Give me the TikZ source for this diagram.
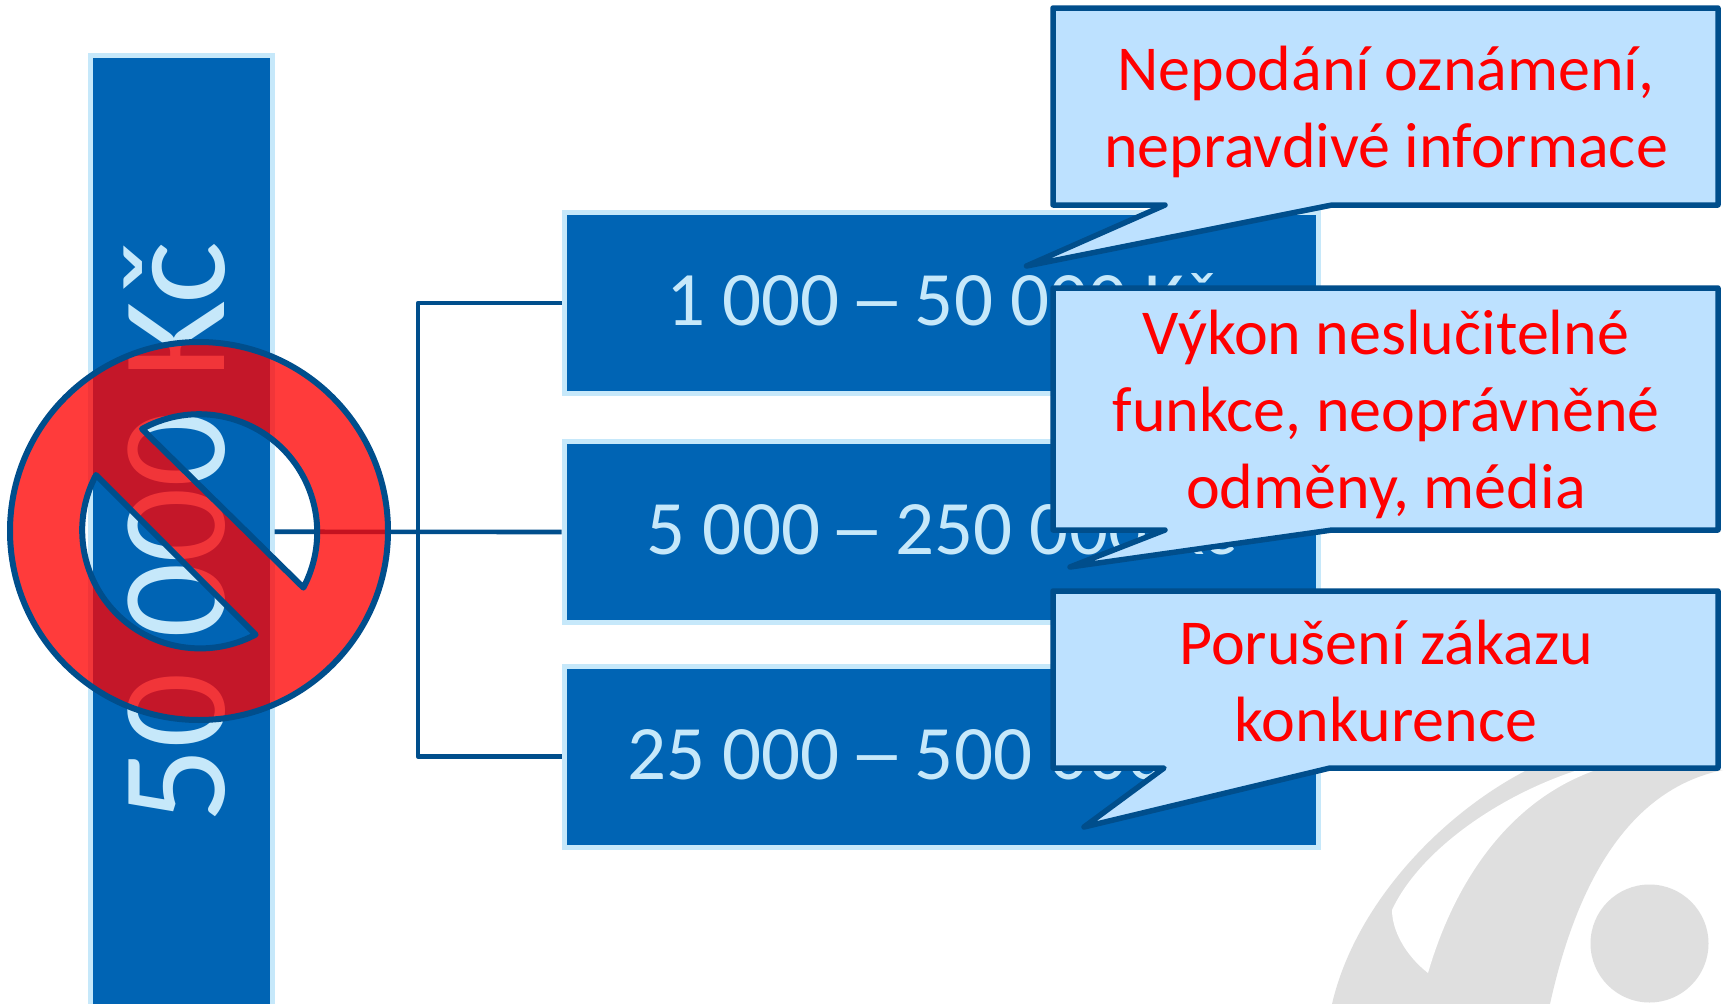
\documentclass[tikz,border=0pt]{standalone}
\usepackage{fontspec}
\usepackage{graphicx}
\setmainfont{Carlito}
\definecolor{barblue}{HTML}{0064B4}
\definecolor{paleedge}{HTML}{C6E8FA}
\definecolor{darkline}{HTML}{004E8C}
\definecolor{callfill}{HTML}{BDE1FF}
\definecolor{logogray}{HTML}{DFDFDF}
\newcommand{\widedash}{\kern-7.5pt\scalebox{1.45}[1]{–}\kern-7.5pt}
\tikzset{
  panel/.style={draw=paleedge,fill=barblue,line width=5pt,inner sep=0pt,text=paleedge,
    minimum width=754pt,minimum height=181pt},
  paneltext/.style={text=paleedge,inner sep=0pt,font=\fontsize{77}{77}\selectfont},
  link/.style={draw=darkline,line width=4.6pt,line join=round},
  bubble/.style={draw=darkline,fill=callfill,line width=5.5pt,line join=round},
  bubbletext/.style={text=red,align=center,inner sep=0pt,font=\fontsize{64}{77}\selectfont},
}
\begin{document}
\begin{tikzpicture}[x=1pt,y=-1pt]
\useasboundingbox (0,0) rectangle (1725,1004);
\clip (0,0) rectangle (1725,1004);
\fill[white] (0,0) rectangle (1725,1004);
% logo
\fill[logogray] (1332,1004) .. controls (1355,905) and (1440,815) .. (1527,770)
  -- (1723,770) .. controls (1625,790) and (1575,890) .. (1550,1004) -- cycle;
\fill[white] (1596,770) .. controls (1510,800) and (1455,880) .. (1428,973)
  .. controls (1405,955) and (1392,930) .. (1392,910)
  .. controls (1420,850) and (1500,795) .. (1578,770) -- cycle;
\fill[logogray] (1649.5,943.5) circle[radius=59];
% bar
\node[draw=paleedge,fill=barblue,line width=5pt,inner sep=0pt,minimum width=182pt,minimum height=952.5pt] (bar) at (181,531.75) {};
\node[rotate=90,text=paleedge,inner sep=0pt,font=\fontsize{149}{149}\selectfont] (bartext) at (175,532.5) {50 000 Kč};
% boxes
\node[panel] (box1) at (941,303) {};
\node[panel] (box2) at (941,532) {};
\node[panel] (box3) at (941,756.5) {};
\node[paneltext] (t1) at (941,300) {1 000 \widedash{} 50 000 Kč};
\node[paneltext] (t2) at (941,529) {5 000 \widedash{} 250 000 Kč};
\node[paneltext] (t3) at (941,753.5) {25 000 \widedash{} 500 000 Kč};
% connectors
\coordinate (trunk) at (418,532);
\draw[link] (bar.east) -- (box2.west);
\draw[link] (box1.west) -| (trunk) |- (box3.west);
% callouts
\draw[bubble] (1053,8) -- (1718,8) -- (1718,205) -- (1332,205) -- (1026.5,266) -- (1165,205) -- (1053,205) -- cycle;
\node[bubbletext] (c1) at (1386,112) {Nepodání oznámení,\\nepravdivé informace};
\draw[bubble] (1053,288) -- (1718,288) -- (1718,530) -- (1332,530) -- (1070,567) -- (1165,530) -- (1053,530) -- cycle;
\node[bubbletext] (c2) at (1386,414) {Výkon neslučitelné\\funkce, neoprávněné\\odměny, média};
\draw[bubble] (1053,591) -- (1718,591) -- (1718,768) -- (1330,768) -- (1084,827) -- (1164,768) -- (1053,768) -- cycle;
\node[bubbletext] (c3) at (1386,681) {Porušení zákazu\\konkurence};
% prohibition sign
\fill[red,fill opacity=.77,even odd rule]
  (199,531) circle[radius=189]
  (142,429) arc[start angle=-119,end angle=28,radius=118] -- cycle
  (96,475) arc[start angle=208,end angle=62,radius=118] -- cycle;
\draw[darkline,line width=6pt,line join=round]
  (199,531) circle[radius=189]
  (142,429) arc[start angle=-119,end angle=28,radius=118] -- cycle
  (96,475) arc[start angle=208,end angle=62,radius=118] -- cycle;
\end{tikzpicture}
\end{document}
